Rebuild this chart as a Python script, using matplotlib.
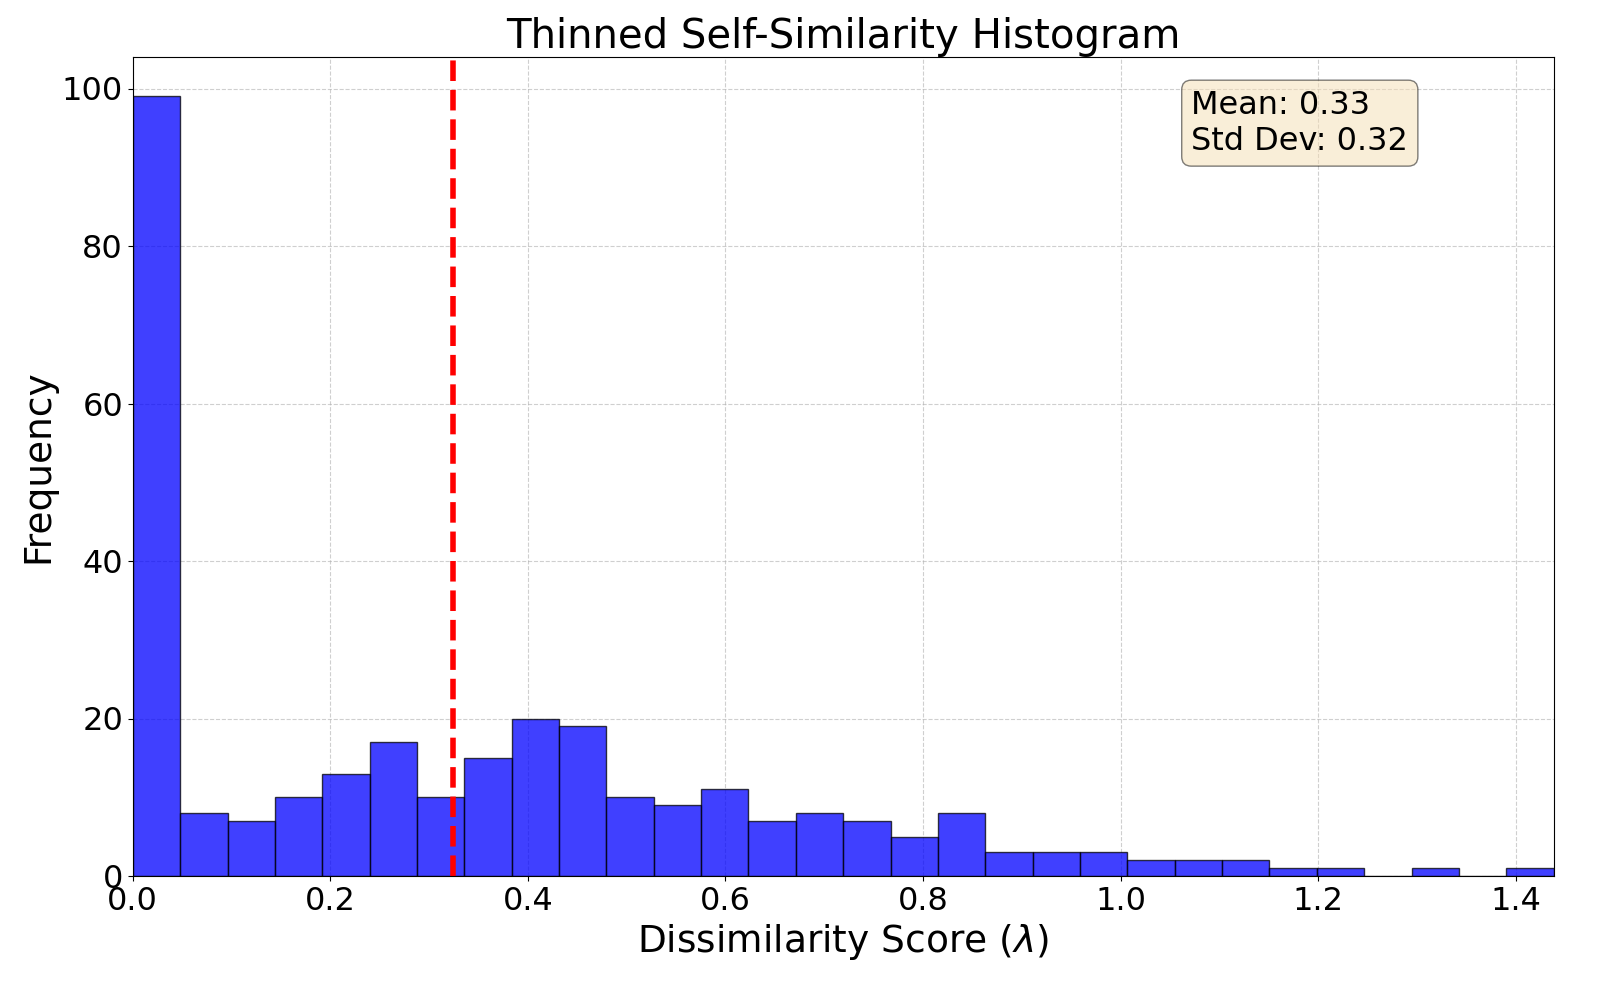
import numpy as np
import matplotlib
matplotlib.use("Agg")
import matplotlib.pyplot as plt

counts = [99, 8, 7, 10, 13, 17, 10, 15, 20, 19, 10, 9, 11, 7, 8, 7, 5, 8, 3, 3, 3, 2, 2, 2, 1, 1, 0, 1, 0, 1]
x_min = 0.0
x_max = 1.4384
mean_val = 0.324
mean_label = 0.33
std_label = 0.32

edges = np.linspace(x_min, x_max, len(counts) + 1)

fig, ax = plt.subplots(figsize=(16, 10), dpi=100)
ax.hist(edges[:-1], bins=edges, weights=counts, color="blue", alpha=0.75, edgecolor="black")
ax.axvline(mean_val, color="red", linestyle="--", linewidth=4)
ax.set_xlim(x_min, x_max)
ax.set_ylim(0, 104)
ax.grid(True, linestyle="--", alpha=0.6)
ax.set_axisbelow(True)
ax.set_title("Thinned Self-Similarity Histogram", fontsize=29)
ax.set_xlabel(r"Dissimilarity Score ($\lambda$)", fontsize=27)
ax.set_ylabel("Frequency", fontsize=27)
ax.tick_params(labelsize=23)
ax.text(0.745, 0.96, f"Mean: {mean_label:.2f}\nStd Dev: {std_label:.2f}", transform=ax.transAxes,
        fontsize=23, va="top", bbox=dict(boxstyle="round", facecolor="wheat", alpha=0.5))
fig.subplots_adjust(left=0.083, right=0.971, top=0.943, bottom=0.124)
fig.savefig("out.png")
